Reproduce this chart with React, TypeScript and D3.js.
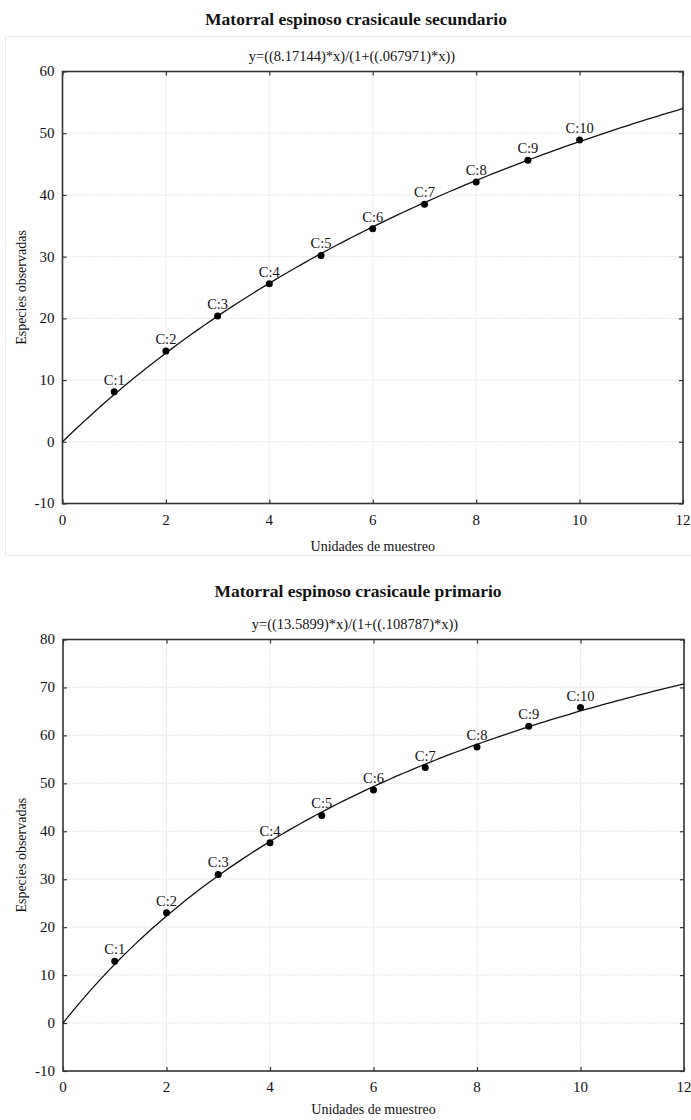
import React, { useEffect, useRef } from "react";
import * as d3 from "d3";

const width = 691;
const height = 1120;

// sampling units
const samples = [1, 2, 3, 4, 5, 6, 7, 8, 9, 10];
const pointLabels = ["C:1", "C:2", "C:3", "C:4", "C:5", "C:6", "C:7", "C:8", "C:9", "C:10"];
const xTicks = [0, 2, 4, 6, 8, 10, 12];

// secundario
const secTitle = "Matorral espinoso crasicaule secundario";
const secEquation = "y=((8.17144)*x)/(1+((.067971)*x))";
const secCoef = [8.17144, 0.067971];
const secObserved = [8.1, 14.7, 20.4, 25.6, 30.2, 34.5, 38.5, 42.1, 45.6, 48.9];
const secYTicks = [-10, 0, 10, 20, 30, 40, 50, 60];

// primario
const priTitle = "Matorral espinoso crasicaule primario";
const priEquation = "y=((13.5899)*x)/(1+((.108787)*x))";
const priCoef = [13.5899, 0.108787];
const priObserved = [12.9, 23.0, 31.0, 37.6, 43.3, 48.6, 53.3, 57.6, 61.9, 65.8];
const priYTicks = [-10, 0, 10, 20, 30, 40, 50, 60, 70, 80];

const font = "'Liberation Serif', 'Times New Roman', serif";

export default function App() {
  const ref = useRef<SVGSVGElement>(null);

  useEffect(() => {
    document.body.style.margin = "0";
    const svg = d3.select(ref.current);
    svg.selectAll("*").remove();

    // faint outer frame of the first figure
    svg
      .append("rect")
      .attr("x", 5.5)
      .attr("y", 36.5)
      .attr("width", 700)
      .attr("height", 519)
      .attr("fill", "none")
      .attr("stroke", "#ececec");

    drawPanel(svg, {
      title: secTitle,
      equation: secEquation,
      coef: secCoef,
      observed: secObserved,
      yTicks: secYTicks,
      titleX: 356,
      titleY: 25,
      eqX: 352,
      eqY: 61,
      box: { left: 62.5, right: 683, top: 71.5, bottom: 503.5 },
      xLabelY: 551,
    });

    drawPanel(svg, {
      title: priTitle,
      equation: priEquation,
      coef: priCoef,
      observed: priObserved,
      yTicks: priYTicks,
      titleX: 358,
      titleY: 597,
      eqX: 355,
      eqY: 629,
      box: { left: 63, right: 684, top: 639.5, bottom: 1071 },
      xLabelY: 1114,
    });
  }, []);

  return <svg ref={ref} width={width} height={height} style={{ display: "block", background: "#fff" }} />;
}

function drawPanel(svg: any, cfg: any) {
  const { box } = cfg;
  const yMin = d3.min(cfg.yTicks) as number;
  const yMax = d3.max(cfg.yTicks) as number;

  const x = d3.scaleLinear().domain([0, 12]).range([box.left, box.right]);
  const y = d3.scaleLinear().domain([yMin, yMax]).range([box.bottom, box.top]);

  const g = svg.append("g").attr("font-family", font).attr("fill", "#111");

  g.append("text")
    .attr("x", cfg.titleX)
    .attr("y", cfg.titleY)
    .attr("text-anchor", "middle")
    .attr("font-weight", "bold")
    .attr("font-size", 17.5)
    .text(cfg.title);

  g.append("text")
    .attr("x", cfg.eqX)
    .attr("y", cfg.eqY)
    .attr("text-anchor", "middle")
    .attr("font-size", 14.5)
    .text(cfg.equation);

  // grid
  g.append("g")
    .selectAll("line")
    .data(xTicks.slice(1, -1))
    .join("line")
    .attr("x1", (d: number) => x(d))
    .attr("x2", (d: number) => x(d))
    .attr("y1", box.top)
    .attr("y2", box.bottom)
    .attr("stroke", "#e6e6e6")
    .attr("stroke-dasharray", "2,1");

  g.append("g")
    .selectAll("line")
    .data(cfg.yTicks.slice(1, -1))
    .join("line")
    .attr("x1", box.left)
    .attr("x2", box.right)
    .attr("y1", (d: number) => y(d))
    .attr("y2", (d: number) => y(d))
    .attr("stroke", "#e6e6e6")
    .attr("stroke-dasharray", "2,1");

  // inward ticks on all four sides
  const tickLen = 4;
  const axes = [
    d3.axisBottom(x).tickValues(xTicks).tickSize(-tickLen).tickFormat(() => ""),
    d3.axisTop(x).tickValues(xTicks).tickSize(-tickLen).tickFormat(() => ""),
    d3.axisLeft(y).tickValues(cfg.yTicks).tickSize(-tickLen).tickFormat(() => ""),
    d3.axisRight(y).tickValues(cfg.yTicks).tickSize(-tickLen).tickFormat(() => ""),
  ];
  const shifts = [
    `translate(0,${box.bottom})`,
    `translate(0,${box.top})`,
    `translate(${box.left},0)`,
    `translate(${box.right},0)`,
  ];
  axes.forEach((ax, i) => {
    const a = g.append("g").attr("transform", shifts[i]).call(ax);
    a.select(".domain").remove();
    a.selectAll("line").attr("stroke", "#333").attr("stroke-width", 1.2);
  });

  g.append("rect")
    .attr("x", box.left)
    .attr("y", box.top)
    .attr("width", box.right - box.left)
    .attr("height", box.bottom - box.top)
    .attr("fill", "none")
    .attr("stroke", "#333")
    .attr("stroke-width", 1.6);

  // tick labels
  g.append("g")
    .selectAll("text")
    .data(xTicks)
    .join("text")
    .attr("x", (d: number) => x(d))
    .attr("y", box.bottom + 21)
    .attr("text-anchor", "middle")
    .attr("font-size", 15)
    .text((d: number) => d);

  g.append("g")
    .selectAll("text")
    .data(cfg.yTicks)
    .join("text")
    .attr("x", box.left - 8)
    .attr("y", (d: number) => y(d))
    .attr("dy", "0.33em")
    .attr("text-anchor", "end")
    .attr("font-size", 15)
    .text((d: number) => d);

  // axis titles
  g.append("text")
    .attr("x", (box.left + box.right) / 2)
    .attr("y", cfg.xLabelY)
    .attr("text-anchor", "middle")
    .attr("font-size", 14)
    .text("Unidades de muestreo");

  g.append("text")
    .attr("transform", `translate(26,${(box.top + box.bottom) / 2}) rotate(-90)`)
    .attr("text-anchor", "middle")
    .attr("font-size", 14)
    .text("Especies observadas");

  // fitted curve from the equation's coefficients
  const [a, b] = cfg.coef;
  const xs = d3.range(0, 12.001, 0.1);
  const line = d3
    .line<number>()
    .x((d) => x(d))
    .y((d) => y((a * d) / (1 + b * d)));

  g.append("path")
    .datum(xs)
    .attr("d", line)
    .attr("fill", "none")
    .attr("stroke", "#111")
    .attr("stroke-width", 1.3);

  // observed points
  g.append("g")
    .selectAll("circle")
    .data(samples)
    .join("circle")
    .attr("cx", (d: number) => x(d))
    .attr("cy", (_: number, i: number) => y(cfg.observed[i]))
    .attr("r", 3.5)
    .attr("fill", "#000");

  g.append("g")
    .selectAll("text")
    .data(samples)
    .join("text")
    .attr("x", (d: number) => x(d))
    .attr("y", (_: number, i: number) => y(cfg.observed[i]) - 7)
    .attr("text-anchor", "middle")
    .attr("font-size", 14.5)
    .text((_: number, i: number) => pointLabels[i]);
}
